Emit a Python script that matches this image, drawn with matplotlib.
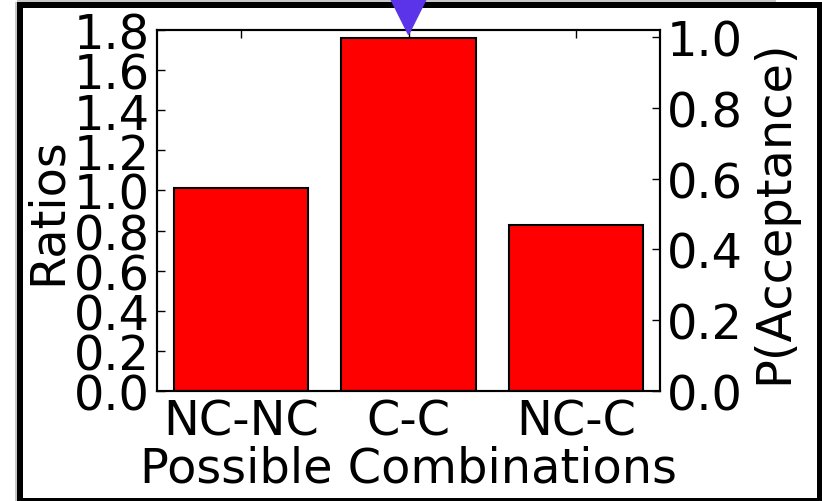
import matplotlib
matplotlib.use("Agg")
import matplotlib.pyplot as plt
from matplotlib.patches import Rectangle

# Data
categories = ["NC-NC", "C-C", "NC-C"]
ratios = [1.01, 1.758, 0.828]
marker_category = 1
marker_p = 1.068

W, H = 822, 502
DPI = 100
FS = 34.5

plt.rcParams["font.family"] = "DejaVu Sans"

fig = plt.figure(figsize=(W / DPI, H / DPI), dpi=DPI)

def px_axes(x0, y0, x1, y1):
    return [x0 / W, 1 - y1 / H, (x1 - x0) / W, (y1 - y0) / H]

ax = fig.add_axes(px_axes(157, 31, 660, 392))
x = list(range(len(categories)))
ax.bar(x, ratios, width=0.8, align="center", color="#ff0000",
       edgecolor="black", linewidth=1.5, zorder=2)
ax.set_xlim(-0.5, 2.5)
ax.set_ylim(0, 1.8)
ax.set_yticks([i * 0.2 for i in range(10)])
ax.set_yticklabels([f"{i * 0.2:.1f}" for i in range(10)])
ax.set_xticks(x)
ax.set_xticklabels(categories)
ax.tick_params(direction="in", length=6, width=1, labelsize=FS, pad=5,
               top=True, right=False)
ax.set_ylabel("Ratios", fontsize=FS, labelpad=2)
ax.set_xlabel("Possible Combinations", fontsize=FS, labelpad=0)
for s in ax.spines.values():
    s.set_linewidth(1.5)

ax2 = ax.twinx()
ax2.set_ylim(0, 1.02)
ax2.set_yticks([0.0, 0.2, 0.4, 0.6, 0.8, 1.0])
ax2.set_yticklabels(["0.0", "0.2", "0.4", "0.6", "0.8", "1.0"])
ax2.tick_params(direction="in", length=6, width=1, labelsize=FS, pad=5)
ax2.set_ylabel("P(Acceptance)", fontsize=FS, labelpad=5)
ax2.plot([marker_category], [marker_p], marker="v", markersize=30,
         color="#5b33e8", markeredgecolor="#5b33e8", linestyle="none",
         clip_on=False, zorder=5)
for s in ax2.spines.values():
    s.set_linewidth(1.5)

# Frame around the figure
def frame_rect(x0, y0, x1, y1, color):
    fig.add_artist(Rectangle((x0 / W, 1 - y1 / H), (x1 - x0) / W, (y1 - y0) / H,
                             transform=fig.transFigure, facecolor=color,
                             edgecolor="none", zorder=-1))

frame_rect(17, 0, 776, 3, "#c8c8c8")
frame_rect(15, 3, 17, 502, "#c8c8c8")
frame_rect(17, 3, 822, 9, "black")
frame_rect(17, 3, 23, 502, "black")
frame_rect(817, 3, 822, 502, "black")
frame_rect(17, 499, 822, 502, "black")

fig.savefig("out.png", dpi=DPI)
